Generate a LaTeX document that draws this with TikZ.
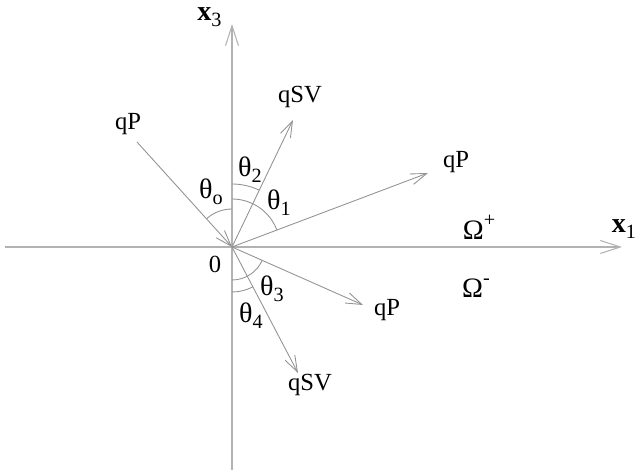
\documentclass[tikz,border=0pt]{standalone}
\usepackage{fontspec}
\setmainfont{Liberation Serif}
\usetikzlibrary{arrows.meta, angles, quotes}
\newcommand{\lo}[1]{\raisebox{-0.45ex}{\fontsize{11.5}{13}\selectfont #1}}
\newcommand{\hi}[1]{\raisebox{1.0ex}{\fontsize{11.5}{13}\selectfont #1}}
\tikzset{
axis/.style={draw=gray!60, line width=0.6pt, -{Straight Barb[length=4mm, width=2.6mm]}},
vec/.style={draw=gray!85, line width=0.5pt, -{Straight Barb[length=3.2mm, width=2.2mm]}},
lbl/.style={inner sep=0pt, font=\fontsize{14}{16}\selectfont},
grk/.style={inner sep=0pt, font=\fontsize{16}{18}\selectfont},
arc/.style={draw=gray!85, line width=0.5pt}
}
\begin{document}
\begin{tikzpicture}
\useasboundingbox (-4.64,-4.54) rectangle (8.06,4.94);
\coordinate (O) at (0,0);
\coordinate (xl) at (-4.54,0);
\coordinate (xr) at (7.8,0);
\coordinate (zb) at (0,-4.46);
\coordinate (zt) at (0,4.46);
\coordinate (inc) at (-1.9,2.1);
\coordinate (sv up) at (1.22,2.54);
\coordinate (p up) at (3.92,1.48);
\coordinate (p dn) at (2.62,-1.16);
\coordinate (sv dn) at (1.32,-2.52);
\draw[axis] (xl) -- (xr);
\draw[axis] (zb) -- (zt);
\draw[vec] (inc) -- (O);
\draw[vec] (O) -- (sv up);
\draw[vec] (O) -- (p up);
\draw[vec] (O) -- (p dn);
\draw[vec] (O) -- (sv dn);
\pic[arc, angle radius=0.76cm] {angle = zt--O--inc};
\pic[arc, angle radius=0.96cm] {angle = p up--O--zt};
\pic[arc, angle radius=1.26cm] {angle = sv up--O--zt};
\pic[arc, angle radius=0.66cm] {angle = zb--O--p dn};
\pic[arc, angle radius=0.9cm] {angle = zb--O--sv dn};
\node[grk] (x3) at (-0.45,4.6) {\textbf{x}\lo{3}};
\node[grk] (x1) at (7.84,0.36) {\textbf{x}\lo{1}};
\node[lbl] (orig) at (-0.34,-0.34) {0};
\node[lbl] (inc lbl) at (-2.08,2.46) {qP};
\node[lbl] (sv up lbl) at (1.36,3.0) {qSV};
\node[lbl] (p up lbl) at (4.48,1.7) {qP};
\node[lbl] (p dn lbl) at (3.1,-1.26) {qP};
\node[lbl] (sv dn lbl) at (1.56,-2.76) {qSV};
\node[grk] (om plus) at (4.94,0.4) {Ω\hi{+}};
\node[grk] (om minus) at (4.88,-0.82) {Ω\hi{-}};
\node[grk] (th0) at (-0.42,1.1) {θ\lo{o}};
\node[grk] (th1) at (0.94,0.88) {θ\lo{1}};
\node[grk] (th2) at (0.36,1.54) {θ\lo{2}};
\node[grk] (th3) at (0.8,-0.84) {θ\lo{3}};
\node[grk] (th4) at (0.38,-1.38) {θ\lo{4}};
\end{tikzpicture}
\end{document}
